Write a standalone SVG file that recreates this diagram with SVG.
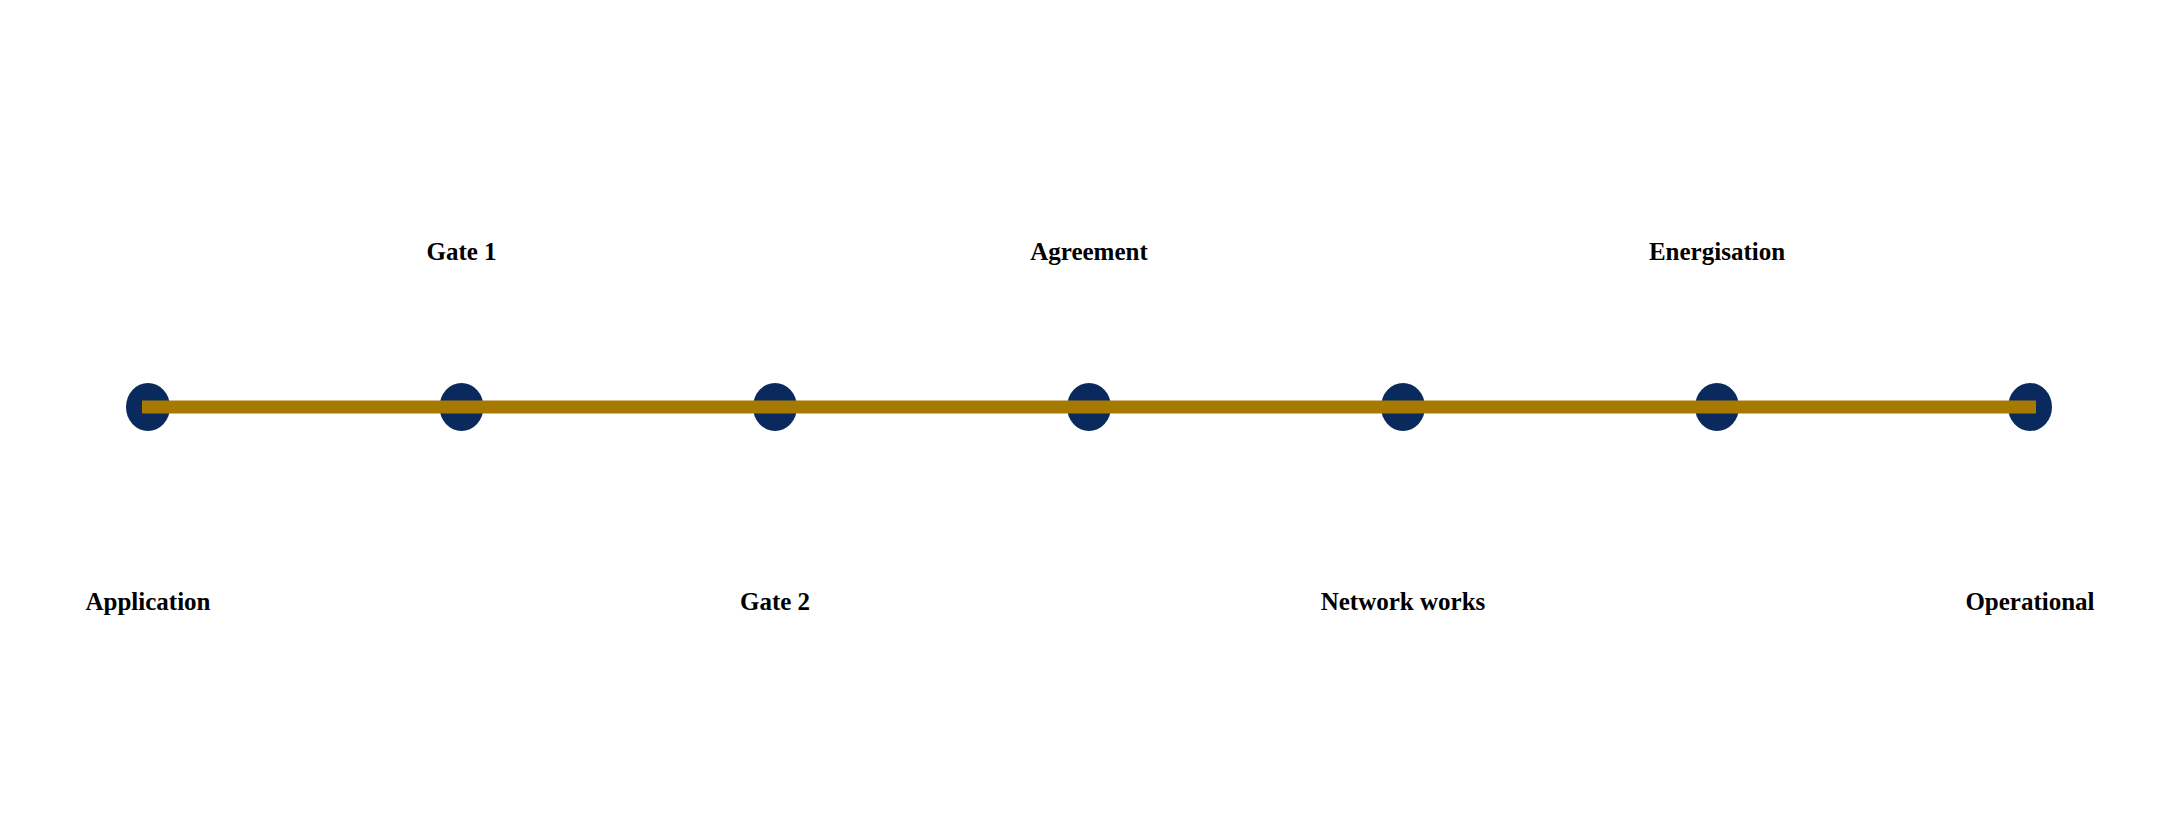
<svg xmlns="http://www.w3.org/2000/svg" width="2178" height="814" viewBox="0 0 2178 814">
<style>
.n{fill:#0A2A5E}
.t{font-family:"Liberation Serif","Times New Roman",serif;font-weight:bold;font-size:25px;fill:#000;text-anchor:middle}
.c{stroke:#A67A00;stroke-width:13;fill:none}
</style>
<rect width="2178" height="814" fill="#fff"/>
<g id="nodes-circles">
<g id="n1"><ellipse class="n" cx="148" cy="407" rx="22" ry="24"/><text class="t" x="148" y="610">Application</text></g>
<g id="n2"><ellipse class="n" cx="461.5" cy="407" rx="22" ry="24"/><text class="t" x="461.5" y="260">Gate 1</text></g>
<g id="n3"><ellipse class="n" cx="775" cy="407" rx="22" ry="24"/><text class="t" x="775" y="610">Gate 2</text></g>
<g id="n4"><ellipse class="n" cx="1089" cy="407" rx="22" ry="24"/><text class="t" x="1089" y="260">Agreement</text></g>
<g id="n5"><ellipse class="n" cx="1403" cy="407" rx="22" ry="24"/><text class="t" x="1403" y="610">Network works</text></g>
<g id="n6"><ellipse class="n" cx="1717" cy="407" rx="22" ry="24"/><text class="t" x="1717" y="260">Energisation</text></g>
<g id="n7"><ellipse class="n" cx="2030" cy="407" rx="22" ry="24"/><text class="t" x="2030" y="610">Operational</text></g>
</g>
<g id="connectors">
<line class="c" x1="142" y1="407" x2="2036" y2="407"/>
</g>
</svg>
